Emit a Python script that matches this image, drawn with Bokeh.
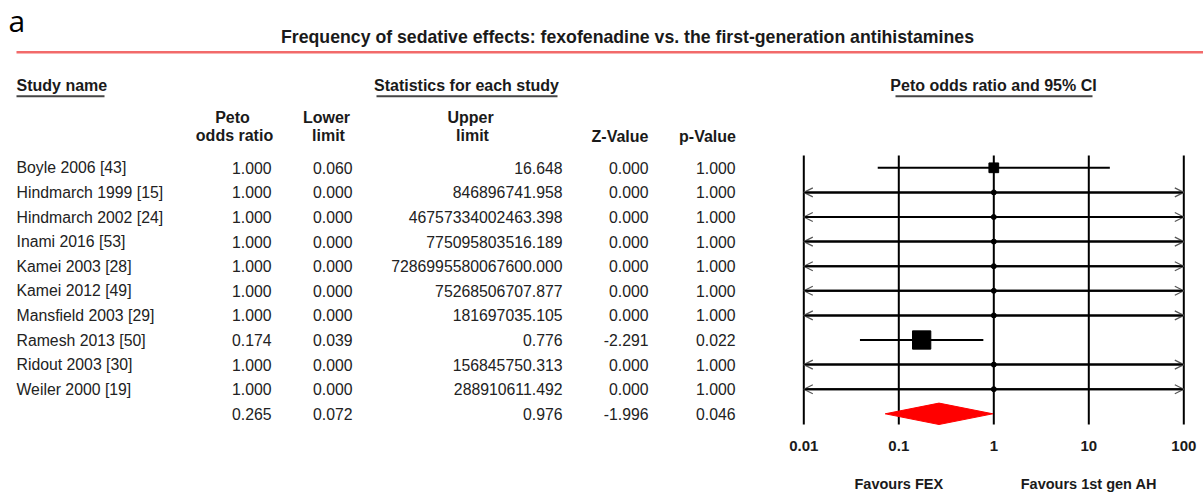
import math

from bokeh.plotting import figure
from bokeh.models import Range1d, LogScale, ColumnDataSource, Arrow, OpenHead
from bokeh.core.properties import value
from bokeh.embed import file_html
from bokeh.resources import INLINE

# ---------------------------------------------------------------- data
studies = [
    "Boyle 2006 [43]",
    "Hindmarch 1999 [15]",
    "Hindmarch 2002 [24]",
    "Inami 2016 [53]",
    "Kamei 2003 [28]",
    "Kamei 2012 [49]",
    "Mansfield 2003 [29]",
    "Ramesh 2013 [50]",
    "Ridout 2003 [30]",
    "Weiler 2000 [19]",
]
peto_or = [1.000, 1.000, 1.000, 1.000, 1.000, 1.000, 1.000, 0.174, 1.000, 1.000]
lower_limit = [0.060, 0.000, 0.000, 0.000, 0.000, 0.000, 0.000, 0.039, 0.000, 0.000]
upper_limit = [
    16.648,
    846896741.958,
    46757334002463.398,
    775095803516.189,
    7286995580067600.000,
    75268506707.877,
    181697035.105,
    0.776,
    156845750.313,
    288910611.492,
]
z_value = [0.000, 0.000, 0.000, 0.000, 0.000, 0.000, 0.000, -2.291, 0.000, 0.000]
p_value = [1.000, 1.000, 1.000, 1.000, 1.000, 1.000, 1.000, 0.022, 1.000, 1.000]

pooled_or = 0.265
pooled_lower = 0.072
pooled_upper = 0.976
pooled_z = -1.996
pooled_p = 0.046

axis_ticks = [0.01, 0.1, 1, 10, 100]
axis_tick_labels = ["0.01", "0.1", "1", "10", "100"]
favour_labels = ["Favours FEX", "Favours 1st gen AH"]
favour_at = [0.1, 10]

# ---------------------------------------------------------------- layout
W, H = 1203, 497
ROW0_PX = 167.3      # vertical pixel centre of the first study row
ROW_PX = 24.6        # row pitch in pixels
LOG_LEFT_PX = 803.3  # pixel position of the first axis tick
DECADE_PX = 95.0     # pixels per decade on the odds-ratio axis


def row_at(py):
    """Row coordinate of a vertical pixel position."""
    return (py - ROW0_PX) / ROW_PX


n = len(studies)
lo_tick, hi_tick = axis_ticks[0], axis_ticks[-1]
log_start = 10 ** (math.log10(lo_tick) - LOG_LEFT_PX / DECADE_PX)
log_end = 10 ** (math.log10(lo_tick) + (W - LOG_LEFT_PX) / DECADE_PX)

p = figure(
    width=W, height=H,
    x_range=Range1d(0, W),
    y_range=Range1d(row_at(H), row_at(0)),
    output_backend="svg", toolbar_location=None,
    x_axis_location=None, y_axis_location=None,
    min_border=0, outline_line_color=None,
    background_fill_color="white", border_fill_color="white",
)
p.grid.visible = False
p.extra_x_ranges = {"or": Range1d(log_start, log_end)}
p.extra_x_scales = {"or": LogScale()}

SANS = value("Liberation Sans")
TXT = "#222222"
BODY = "15.8px"
HEAD = "16px"

# ---------------------------------------------------------------- heading
p.text(x=[8], y=[row_at(20)], text=["a"], text_font=value("Open Sans"),
       text_font_size="30px", text_color="black",
       text_align="left", text_baseline="middle")
p.text(x=[627], y=[row_at(36.5)],
       text=["Frequency of sedative effects: fexofenadine vs. the first-generation antihistamines"],
       text_font=SANS, text_font_size="17.7px", text_font_style="bold",
       text_color="#1a1a1a", text_align="center", text_baseline="middle")
p.segment(x0=[16], x1=[W], y0=[row_at(51.7)], y1=[row_at(51.7)],
          line_color="#f26a6a", line_width=2.5)

# section headers with underlines
sec_text = ["Study name", "Statistics for each study", "Peto odds ratio and 95% CI"]
sec_x = [16, 466, 993]
sec_align = ["left", "center", "center"]
for t, x, a in zip(sec_text, sec_x, sec_align):
    p.text(x=[x], y=[row_at(85)], text=[t], text_font=SANS, text_font_size=HEAD,
           text_font_style="bold", text_color="#1a1a1a",
           text_align=a, text_baseline="middle")
p.segment(x0=[16, 376, 895], x1=[104, 557, 1092],
          y0=[row_at(95.7)] * 3, y1=[row_at(95.7)] * 3,
          line_color="#444444", line_width=2)

# column headers
col_head = [
    ("Peto", 232, 116.7), ("odds ratio", 234, 135),
    ("Lower", 326, 116.7), ("limit", 328, 135),
    ("Upper", 470, 116.7), ("limit", 472, 135),
    ("Z-Value", 619.5, 135.5), ("p-Value", 707, 135.5),
]
p.text(x=[c[1] for c in col_head], y=[row_at(c[2]) for c in col_head],
       text=[c[0] for c in col_head], text_font=SANS, text_font_size=HEAD,
       text_font_style="bold", text_color="#1a1a1a",
       text_align="center", text_baseline="middle")

# ---------------------------------------------------------------- table body
rows = list(range(n))
p.text(x=[16] * n, y=rows, text=studies, text_font=SANS, text_font_size=BODY,
       text_color=TXT, text_align="left", text_baseline="middle")

all_rows = rows + [n]
columns = [
    (271, peto_or + [pooled_or]),
    (352, lower_limit + [pooled_lower]),
    (562, upper_limit + [pooled_upper]),
    (648, z_value + [pooled_z]),
    (735, p_value + [pooled_p]),
]
for right_x, vals in columns:
    p.text(x=[right_x] * len(vals), y=all_rows, text=[f"{v:.3f}" for v in vals],
           text_font=SANS, text_font_size=BODY, text_color=TXT,
           text_align="right", text_baseline="middle")

# ---------------------------------------------------------------- forest plot
# reference lines at each decade
p.segment(x0=axis_ticks, x1=axis_ticks,
          y0=[row_at(155)] * len(axis_ticks), y1=[row_at(424)] * len(axis_ticks),
          line_color="black", line_width=2, x_range_name="or")

# confidence intervals, clipped to the axis
lo_draw = [max(v, lo_tick) for v in lower_limit]
hi_draw = [min(v, hi_tick) for v in upper_limit]
p.segment(x0=lo_draw, x1=hi_draw, y0=rows, y1=rows,
          line_color="black", line_width=2, x_range_name="or")

left_clip = [i for i in rows if lower_limit[i] < lo_tick]
right_clip = [i for i in rows if upper_limit[i] > hi_tick]
for idx, edge in ((left_clip, lo_tick), (right_clip, hi_tick)):
    src = ColumnDataSource(dict(
        xs=[peto_or[i] for i in idx], xe=[edge] * len(idx), y=idx))
    p.add_layout(Arrow(
        end=OpenHead(size=9, line_color="#555555", line_width=1.2),
        x_start="xs", y_start="y", x_end="xe", y_end="y", source=src,
        line_color="black", line_width=2, x_range_name="or"))

# study weights from the width of each interval (inverse variance on log scale)
weights = []
for lo, hi in zip(lower_limit, upper_limit):
    if lo > 0:
        se = math.log(hi / lo) / (2 * 1.96)
        weights.append(1.0 / se ** 2)
    else:
        weights.append(0.0)
w_max = max(weights)
weighted = [i for i in rows if weights[i] > 0]
p.scatter(x=[peto_or[i] for i in weighted], y=weighted,
          size=[18.3 * math.sqrt(weights[i] / w_max) for i in weighted],
          marker="square", fill_color="black", line_color="black",
          x_range_name="or")
empty = [i for i in rows if weights[i] == 0]
p.scatter(x=[peto_or[i] for i in empty], y=empty, size=5, marker="circle",
          fill_color="black", line_color="black", x_range_name="or")

# pooled estimate diamond
half_h = 10.7 / ROW_PX
p.patch(x=[pooled_lower, pooled_or, pooled_upper, pooled_or],
        y=[n, n - half_h, n, n + half_h],
        fill_color="#ff0000", line_color="#ff0000", line_width=1,
        x_range_name="or")

# axis tick labels and direction captions
p.text(x=axis_ticks, y=[row_at(445)] * len(axis_ticks), text=axis_tick_labels,
       text_font=SANS, text_font_size="15px", text_font_style="bold",
       text_color="#1a1a1a", text_align="center", text_baseline="middle",
       x_range_name="or")
p.text(x=favour_at, y=[row_at(483.5)] * 2, text=favour_labels,
       text_font=SANS, text_font_size="14.5px", text_font_style="bold",
       text_color="#1a1a1a", text_align="center", text_baseline="middle",
       x_range_name="or")

open("out.html", "w").write(file_html(p, INLINE))
